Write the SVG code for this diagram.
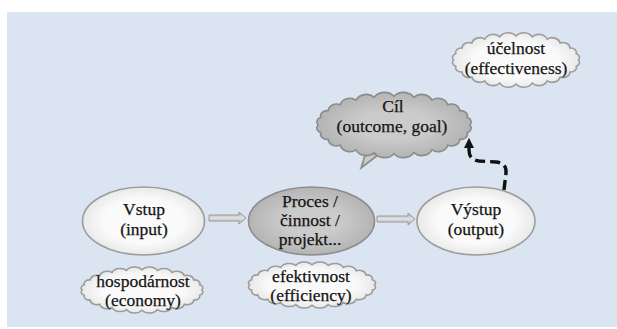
<svg xmlns="http://www.w3.org/2000/svg" width="617" height="329" viewBox="0 0 617 329">
<style>
text{font-family:"Liberation Serif","Times New Roman",serif;font-size:17.5px;fill:#141414;stroke:#141414;stroke-width:0.25;text-anchor:middle}
.white{fill:url(#gW);stroke:#9c9c9c;stroke-width:1.6}
.gray{fill:url(#gG);stroke:#8c8c8c;stroke-width:1.6}
.blk{fill:url(#gA);stroke:#9a9a9a;stroke-width:1}
.dash{fill:none;stroke:#111;stroke-width:3.4;stroke-dasharray:10 5}
</style>
<defs>
<radialGradient id="gW" cx="50%" cy="50%" r="55%"><stop offset="0.6" stop-color="#fafafa"/><stop offset="1" stop-color="#e4e4e4"/></radialGradient>
<radialGradient id="gG" cx="50%" cy="50%" r="55%"><stop offset="0.4" stop-color="#cbcbcb"/><stop offset="1" stop-color="#b0b0b0"/></radialGradient>
<linearGradient id="gA" x1="0" y1="0" x2="0" y2="1"><stop offset="0" stop-color="#b0b0b0"/><stop offset="0.5" stop-color="#e2e2e2"/><stop offset="1" stop-color="#a8a8a8"/></linearGradient>
<path id="cloud" vector-effect="non-scaling-stroke" d="M52,0 A3.8,3.8 0 0 1 50.2,6.1 A4.6,4.6 0 0 1 45,11.75 A5.7,5.7 0 0 1 36.8,16.6 A6.8,6.8 0 0 1 26,20.4 A7.6,7.6 0 0 1 13.5,22.7 A8.1,8.1 0 0 1 0,23.5 A8.1,8.1 0 0 1 -13.5,22.7 A7.6,7.6 0 0 1 -26,20.4 A6.8,6.8 0 0 1 -36.8,16.6 A5.7,5.7 0 0 1 -45,11.75 A4.6,4.6 0 0 1 -50.2,6.1 A3.8,3.8 0 0 1 -52,0 A3.8,3.8 0 0 1 -50.2,-6.1 A4.6,4.6 0 0 1 -45,-11.75 A5.7,5.7 0 0 1 -36.8,-16.6 A6.8,6.8 0 0 1 -26,-20.4 A7.6,7.6 0 0 1 -13.5,-22.7 A8.1,8.1 0 0 1 0,-23.5 A8.1,8.1 0 0 1 13.5,-22.7 A7.6,7.6 0 0 1 26,-20.4 A6.8,6.8 0 0 1 36.8,-16.6 A5.7,5.7 0 0 1 45,-11.75 A4.6,4.6 0 0 1 50.2,-6.1 A3.8,3.8 0 0 1 52,0 Z"/>
<marker id="ah" viewBox="0 0 10 10" refX="5" refY="5" markerWidth="3" markerHeight="3" orient="auto"><path d="M0,0 L10,5 L0,10 Z" fill="#111"/></marker>
</defs>
<rect x="7" y="12" width="610" height="315" fill="#dbe5f1"/>

<g id="connectors">
<path class="blk" d="M209,215 L239,215 L239,212 L246,218 L239,224 L239,221 L209,221 Z"/>
<path class="blk" d="M377,216 L408,216 L408,213 L415,219 L408,225 L408,222 L377,222 Z"/>
<path class="dash" d="M504,190 L506,173 Q507,163 496,162 L479,161 Q469,160 469,150 L469,143" marker-end="url(#ah)"/>
</g>

<g id="vstup">
<ellipse class="white" cx="143.5" cy="221" rx="61" ry="34"/>
<text x="144" y="215">Vstup</text>
<text x="144" y="235">(input)</text>
</g>
<g id="proces">
<ellipse class="gray" cx="311.5" cy="221" rx="63" ry="34"/>
<text x="310" y="207">Proces /</text>
<text x="310" y="226">činnost /</text>
<text x="310" y="245">projekt...</text>
</g>
<g id="vystup">
<ellipse class="white" cx="476" cy="221" rx="59" ry="34"/>
<text x="476" y="215">Výstup</text>
<text x="476" y="235">(output)</text>
</g>
<g id="cil">
<path class="gray" d="M366,152 L361,168 L378,155 Z"/>
<use href="#cloud" class="gray" transform="translate(394,125) scale(1.46,1.22)"/>
<text x="393" y="112">Cíl</text>
<text x="392" y="132">(outcome, goal)</text>
</g>
<g id="ucelnost">
<use href="#cloud" class="white" transform="translate(516,60) scale(1.2,1.02)"/>
<text x="516" y="54">účelnost</text>
<text x="516" y="74">(effectiveness)</text>
</g>
<g id="hospodarnost">
<use href="#cloud" class="white" transform="translate(142,290) scale(1.15,0.86)"/>
<text x="143" y="287">hospodárnost</text>
<text x="143" y="306">(economy)</text>
</g>
<g id="efektivnost">
<use href="#cloud" class="white" transform="translate(312,285) scale(1.2,0.86)"/>
<text x="311" y="282">efektivnost</text>
<text x="311" y="301">(efficiency)</text>
</g>
</svg>
